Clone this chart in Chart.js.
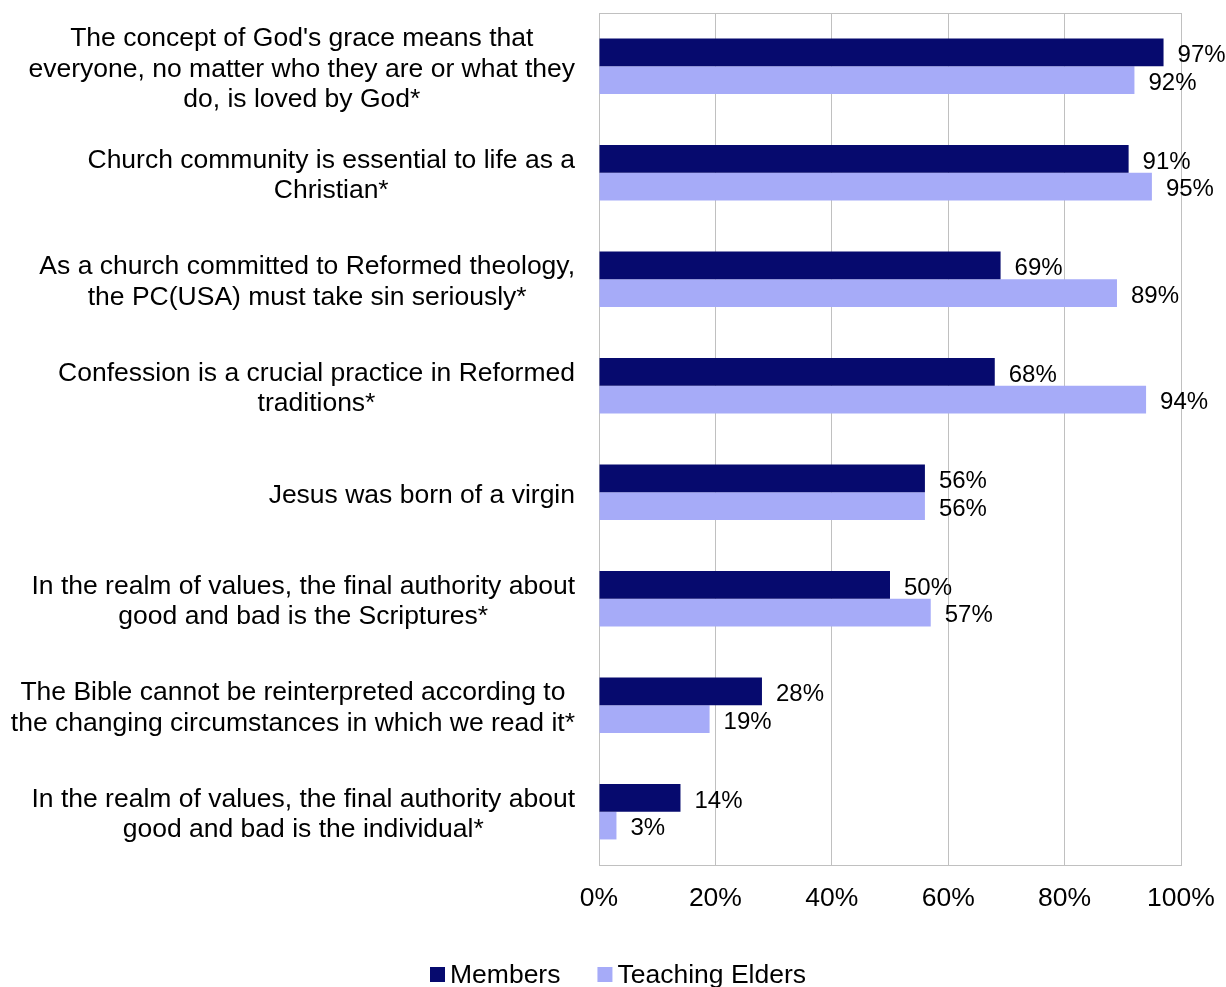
<!DOCTYPE html>
<html>
<head>
<meta charset="utf-8">
<script src="https://cdn.jsdelivr.net/npm/chart.js@4.4.1/dist/chart.umd.min.js"></script>
<style>
  html, body { margin: 0; padding: 0; background: #fff; overflow: hidden; }
  #wrap { width: 1226px; height: 987px; position: relative; }
</style>
</head>
<body>
<div id="wrap"><canvas id="chart"></canvas></div>
<script>
var CATEGORIES = [
  ["The concept of God's grace means that", "everyone, no matter who they are or what they", "do, is loved by God*"],
  ["Church community is essential to life as a", "Christian*"],
  ["As a church committed to Reformed theology,", "the PC(USA) must take sin seriously*"],
  ["Confession is a crucial practice in Reformed", "traditions*"],
  ["Jesus was born of a virgin"],
  ["In the realm of values, the final authority about", "good and bad is the Scriptures*"],
  ["The Bible cannot be reinterpreted according to", "the changing circumstances in which we read it*"],
  ["In the realm of values, the final authority about", "good and bad is the individual*"]
];
var MEMBERS = [97, 91, 69, 68, 56, 50, 28, 14];
var TEACHING_ELDERS = [92, 95, 89, 94, 56, 57, 19, 3];
var SERIES_NAMES = ["Members", "Teaching Elders"];
var SERIES_COLORS = ["#060a6e", "#a6abf8"];

var FONT = '"Liberation Sans", Arial, sans-serif';
var GRID = "#c0c0c0";

// category text: each block right-aligned to the axis, lines centred inside it
var categoryLabels = {
  id: "categoryLabels",
  afterDraw: function (chart) {
    var ctx = chart.ctx;
    var yScale = chart.scales.y;
    var right = chart.chartArea.left - 24;
    var lineHeight = 30.5;
    ctx.save();
    ctx.font = "26.5px " + FONT;
    ctx.fillStyle = "#000";
    ctx.textAlign = "center";
    ctx.textBaseline = "middle";
    CATEGORIES.forEach(function (lines, i) {
      var widest = 0;
      lines.forEach(function (line) {
        widest = Math.max(widest, ctx.measureText(line).width);
      });
      var cx = right - widest / 2;
      var cy = yScale.getPixelForTick(i) + 3;
      lines.forEach(function (line, k) {
        ctx.fillText(line, cx, cy + (k - (lines.length - 1) / 2) * lineHeight);
      });
    });
    ctx.restore();
  }
};

// value labels to the right of each bar
var valueLabels = {
  id: "valueLabels",
  afterDatasetsDraw: function (chart) {
    var ctx = chart.ctx;
    ctx.save();
    ctx.font = "24px " + FONT;
    ctx.fillStyle = "#000";
    ctx.textAlign = "left";
    ctx.textBaseline = "middle";
    chart.data.datasets.forEach(function (ds, di) {
      chart.getDatasetMeta(di).data.forEach(function (bar, i) {
        ctx.fillText(ds.data[i] + "%", bar.x + 14, bar.y + 3);
      });
    });
    ctx.restore();
  }
};

// box around the plot area
var plotFrame = {
  id: "plotFrame",
  beforeDatasetsDraw: function (chart) {
    var a = chart.chartArea;
    var ctx = chart.ctx;
    ctx.save();
    ctx.strokeStyle = GRID;
    ctx.lineWidth = 1;
    ctx.strokeRect(Math.round(a.left) + 0.5, Math.round(a.top) + 0.5,
      Math.round(a.right - a.left), Math.round(a.bottom - a.top));
    ctx.restore();
  }
};

// legend along the bottom: small square, tight gap, then the series name
var bottomLegend = {
  id: "bottomLegend",
  afterDraw: function (chart) {
    var ctx = chart.ctx;
    var box = 15, gap = 5, spacing = 37;
    var cy = 975;
    ctx.save();
    ctx.font = "26.5px " + FONT;
    ctx.textBaseline = "middle";
    ctx.textAlign = "left";
    var widths = SERIES_NAMES.map(function (n) { return ctx.measureText(n).width; });
    var total = 0;
    widths.forEach(function (w, i) { total += box + gap + w + (i ? spacing : 0); });
    var x = chart.width / 2 + 5 - total / 2;
    SERIES_NAMES.forEach(function (name, i) {
      ctx.fillStyle = chart.data.datasets[i].backgroundColor;
      ctx.fillRect(x, cy - 8, box, box);
      ctx.fillStyle = "#000";
      ctx.fillText(name, x + box + gap, cy + 1);
      x += box + gap + widths[i] + spacing;
    });
    ctx.restore();
  }
};

new Chart(document.getElementById("chart"), {
  type: "bar",
  data: {
    labels: CATEGORIES.map(function (lines) { return lines.join(" "); }),
    datasets: [{
      label: SERIES_NAMES[0],
      data: MEMBERS,
      backgroundColor: SERIES_COLORS[0],
      borderWidth: 0
    }, {
      label: SERIES_NAMES[1],
      data: TEACHING_ELDERS,
      backgroundColor: SERIES_COLORS[1],
      borderWidth: 0
    }]
  },
  options: {
    indexAxis: "y",
    responsive: true,
    maintainAspectRatio: false,
    animation: false,
    layout: { padding: { top: 13, right: 45, left: 0, bottom: 50 } },
    datasets: { bar: { categoryPercentage: 0.52, barPercentage: 1 } },
    plugins: {
      tooltip: { enabled: false },
      legend: { display: false }
    },
    scales: {
      x: {
        min: 0,
        max: 100,
        afterFit: function (scale) {
          scale.height = 72;
          // the outer padding already leaves room for the "100%" label
          scale.paddingLeft = 0;
          scale.paddingRight = 0;
        },
        ticks: {
          stepSize: 20,
          color: "#000",
          padding: 18,
          font: { family: FONT, size: 26.5 },
          callback: function (v) { return v + "%"; }
        },
        grid: { color: GRID, drawTicks: false },
        border: { display: false }
      },
      y: {
        afterFit: function (scale) { scale.width = 599; },
        ticks: { display: false },
        grid: { display: false },
        border: { display: false }
      }
    }
  },
  plugins: [plotFrame, valueLabels, categoryLabels, bottomLegend]
});
</script>
</body>
</html>
